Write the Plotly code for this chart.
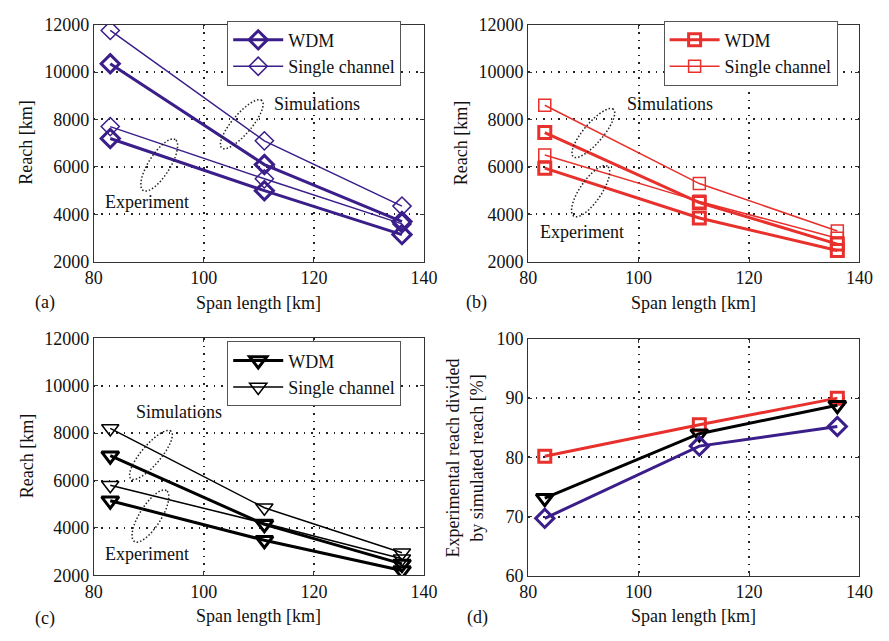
import numpy as np
import plotly.graph_objects as go

# ---------------- data ----------------
span_km = [83, 111, 136]

# (a) diamonds
a_wdm_sim = [10350, 6100, 3700]
a_wdm_exp = [7200, 5000, 3150]
a_sc_sim = [11750, 7100, 4350]
a_sc_exp = [7700, 5500, 3600]

# (b) squares
b_wdm_sim = [7450, 4500, 2750]
b_wdm_exp = [5950, 3850, 2480]
b_sc_sim = [8600, 5300, 3300]
b_sc_exp = [6500, 4550, 3000]

# (c) triangles
c_wdm_sim = [7050, 4150, 2480]
c_wdm_exp = [5150, 3480, 2200]
c_sc_sim = [8200, 4850, 2950]
c_sc_exp = [5800, 4200, 2700]

# (d) experimental / simulated reach [%]
d_diamond = [69.7, 81.9, 85.2]
d_square = [80.2, 85.5, 90.0]
d_triangle = [73.1, 84.0, 88.8]

x_ticks = [80, 100, 120, 140]
reach_ticks = [2000, 4000, 6000, 8000, 10000, 12000]
pct_ticks = [60, 70, 80, 90, 100]

PURPLE = "#3B1E8A"
RED = "#E8302C"
BLACK = "#000000"
FONT = "Liberation Serif, 'Times New Roman', Times, serif"
W, H = 889, 641

# panel boxes in pixels: left, right, top, bottom
boxes = {
    "a": (87, 426, 15, 260),
    "b": (533, 873, 15, 260),
    "c": (87, 426, 339, 583.5),
    "d": (533, 873, 339.5, 584),
}
axis_ids = {"a": ("x", "y"), "b": ("x2", "y2"), "c": ("x3", "y3"), "d": ("x4", "y4")}
yranges = {"a": (2000, 12000), "b": (2000, 12000), "c": (2000, 12000), "d": (60, 100)}
xrange_ = (80, 140)

fig = go.Figure()


def add_series(panel, y, color, symbol, thick, legend=None, name=None, show=False):
    xa, ya = axis_ids[panel]
    lw = 3 if thick else 1.5
    size = {"diamond-open": 14, "square-open": 12, "triangle-down-open": 15}[symbol]
    fig.add_trace(go.Scatter(
        x=span_km, y=y, xaxis=xa, yaxis=ya,
        mode="lines+markers",
        line=dict(color=color, width=lw),
        marker=dict(symbol=symbol, size=size,
                    color=color, line=dict(color=color, width=lw)),
        name=name, showlegend=show, legend=legend, legendgroup=f"{panel}{name}",
        hoverinfo="x+y",
    ))


panels = [
    ("a", PURPLE, "diamond-open", a_wdm_sim, a_wdm_exp, a_sc_sim, a_sc_exp, "legend"),
    ("b", RED, "square-open", b_wdm_sim, b_wdm_exp, b_sc_sim, b_sc_exp, "legend2"),
    ("c", BLACK, "triangle-down-open", c_wdm_sim, c_wdm_exp, c_sc_sim, c_sc_exp, "legend3"),
]
for p, col, sym, ws, we, ss, se, lg in panels:
    add_series(p, ws, col, sym, True, lg, "WDM", True)
    add_series(p, we, col, sym, True, lg, "WDM", False)
    add_series(p, ss, col, sym, False, lg, "Single channel", True)
    add_series(p, se, col, sym, False, lg, "Single channel", False)

add_series("d", d_square, RED, "square-open", True)
add_series("d", d_triangle, BLACK, "triangle-down-open", True)
add_series("d", d_diamond, PURPLE, "diamond-open", True)

# ---------------- axes ----------------
layout = {}
for i, p in enumerate(["a", "b", "c", "d"]):
    l, r, t, b = boxes[p]
    sfx = "" if i == 0 else str(i + 1)
    yr = yranges[p]
    ytv = pct_ticks if p == "d" else reach_ticks
    common = dict(showline=True, linecolor="#333", linewidth=1, mirror="ticks",
                  ticks="inside", ticklen=4, tickcolor="#333",
                  showgrid=True, gridcolor="#222", griddash="1.5px,6px", gridwidth=1.5,
                  zeroline=False, tickfont=dict(family=FONT, size=18, color="#111"))
    layout[f"xaxis{sfx}"] = dict(domain=[l / W, r / W], range=list(xrange_),
                                 tickvals=x_ticks, anchor=f"y{sfx}", **common)
    layout[f"yaxis{sfx}"] = dict(domain=[1 - b / H, 1 - t / H], range=list(yr),
                                 tickvals=ytv, tickformat="d", anchor=f"x{sfx}", **common)

fig.update_layout(**layout)


def px_of(panel, x, y):
    l, r, t, b = boxes[panel]
    y0, y1 = yranges[panel]
    return l + (x - xrange_[0]) / (xrange_[1] - xrange_[0]) * (r - l), b - (y - y0) / (y1 - y0) * (b - t)


def ellipse_path(panel, cx, cy, a, bminor, ang_deg):
    pcx, pcy = px_of(panel, cx, cy)
    th = np.linspace(0, 2 * np.pi, 73)
    ang = np.deg2rad(ang_deg)
    ex = a * np.cos(th)
    ey = bminor * np.sin(th)
    xs = pcx + ex * np.cos(ang) - ey * np.sin(ang)
    ys = pcy - (ex * np.sin(ang) + ey * np.cos(ang))
    pts = [f"{xx / W:.5f},{1 - yy / H:.5f}" for xx, yy in zip(xs, ys)]
    return "M" + " L".join(pts) + " Z"


# group ellipses: (panel, centre span, centre reach, semi-major px, semi-minor px, tilt)
ellipses = [
    ("a", 106.9, 7800, 32, 10, 50), ("a", 91.9, 6080, 31, 11, 58),
    ("b", 91.8, 7430, 32, 10, 50), ("b", 91.3, 4980, 31, 11, 56),
    ("c", 90.4, 7080, 32, 10, 50), ("c", 90.3, 4500, 31, 11, 58),
]
shapes = []
for p, cx, cy, a, bm, ang in ellipses:
    shapes.append(dict(type="path", xref="paper", yref="paper",
                       path=ellipse_path(p, cx, cy, a, bm, ang),
                       line=dict(color="#222", width=1.5, dash="1.5px,2px")))
fig.update_layout(shapes=shapes)

# ---------------- text ----------------
ann = []


def text(px, py, s, size=18, xanchor="left", angle=0):
    ann.append(dict(x=px / W, y=1 - py / H, xref="paper", yref="paper", text=s,
                    showarrow=False, xanchor=xanchor, yanchor="middle", textangle=angle,
                    font=dict(family=FONT, size=size, color="#111")))


# group labels
text(270, 97, "Simulations"); text(97, 198, "Experiment")
text(632, 97, "Simulations"); text(543, 229, "Experiment")
text(128, 415, "Simulations"); text(96, 562, "Experiment")

# axis titles
for p in ["a", "b", "c", "d"]:
    l, r, t, b = boxes[p]
    text((l + r) / 2, b + 42, "Span length [km]", xanchor="center")
text(18, 137.5, "Reach [km]", xanchor="center", angle=-90)
text(464, 137.5, "Reach [km]", xanchor="center", angle=-90)
text(18, 461, "Reach [km]", xanchor="center", angle=-90)
text(468, 462, "Experimental reach divided<br>by simulated reach [%]", xanchor="center", angle=-90)

# panel letters
text(25, 302, "(a)"); text(467, 302, "(b)"); text(25, 628, "(c)"); text(468, 627, "(d)")
fig.update_layout(annotations=ann)

# ---------------- legends ----------------
leg_common = dict(xanchor="left", yanchor="top", bgcolor="white", bordercolor="#555",
                  borderwidth=1, font=dict(family=FONT, size=18, color="#111"),
                  itemwidth=50, tracegroupgap=0, traceorder="normal")
fig.update_layout(
    legend=dict(x=224 / W, y=1 - 11 / H, **leg_common),
    legend2=dict(x=672 / W, y=1 - 11 / H, **leg_common),
    legend3=dict(x=224 / W, y=1 - 342 / H, **leg_common),
)

fig.update_layout(width=W, height=H, margin=dict(l=0, r=0, t=0, b=0),
                  paper_bgcolor="white", plot_bgcolor="white")

fig.write_html("out.html")
